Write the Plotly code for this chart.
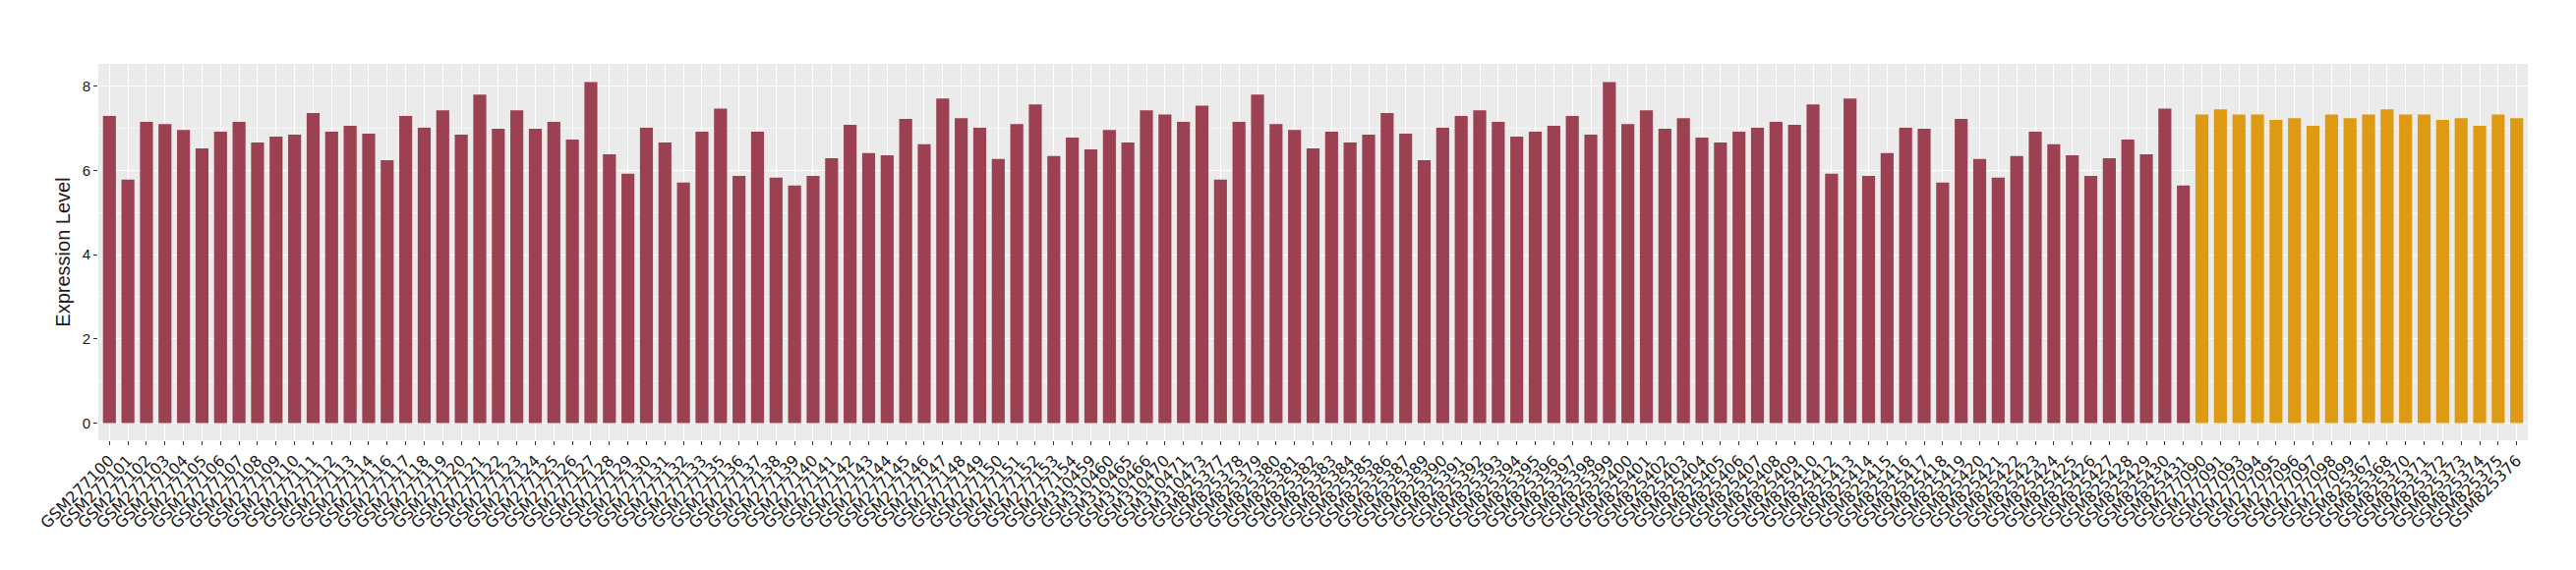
import plotly.graph_objects as go

samples = [
    "GSM277100", "GSM277101", "GSM277102", "GSM277103", "GSM277104", "GSM277105", "GSM277106",
    "GSM277107", "GSM277108", "GSM277109", "GSM277110", "GSM277111", "GSM277112", "GSM277113",
    "GSM277114", "GSM277116", "GSM277117", "GSM277118", "GSM277119", "GSM277120", "GSM277121",
    "GSM277122", "GSM277123", "GSM277124", "GSM277125", "GSM277126", "GSM277127", "GSM277128",
    "GSM277129", "GSM277130", "GSM277131", "GSM277132", "GSM277133", "GSM277135", "GSM277136",
    "GSM277137", "GSM277138", "GSM277139", "GSM277140", "GSM277141", "GSM277142", "GSM277143",
    "GSM277144", "GSM277145", "GSM277146", "GSM277147", "GSM277148", "GSM277149", "GSM277150",
    "GSM277151", "GSM277152", "GSM277153", "GSM277154", "GSM310459", "GSM310460", "GSM310465",
    "GSM310466", "GSM310470", "GSM310471", "GSM310473", "GSM825377", "GSM825378", "GSM825379",
    "GSM825380", "GSM825381", "GSM825382", "GSM825383", "GSM825384", "GSM825385", "GSM825386",
    "GSM825387", "GSM825389", "GSM825390", "GSM825391", "GSM825392", "GSM825393", "GSM825394",
    "GSM825395", "GSM825396", "GSM825397", "GSM825398", "GSM825399", "GSM825400", "GSM825401",
    "GSM825402", "GSM825403", "GSM825404", "GSM825405", "GSM825406", "GSM825407", "GSM825408",
    "GSM825409", "GSM825410", "GSM825412", "GSM825413", "GSM825414", "GSM825415", "GSM825416",
    "GSM825417", "GSM825418", "GSM825419", "GSM825420", "GSM825421", "GSM825422", "GSM825423",
    "GSM825424", "GSM825425", "GSM825426", "GSM825427", "GSM825428", "GSM825429", "GSM825430",
    "GSM825431",
    "GSM277090", "GSM277091", "GSM277093", "GSM277094", "GSM277095", "GSM277096", "GSM277097",
    "GSM277098", "GSM277099", "GSM825367", "GSM825368", "GSM825370", "GSM825371", "GSM825372",
    "GSM825373", "GSM825374", "GSM825375", "GSM825376",
]

values = [
    7.29, 5.78, 7.15, 7.10, 6.96, 6.52, 6.92,
    7.15, 6.66, 6.80, 6.85, 7.36, 6.92, 7.06,
    6.87, 6.24, 7.29, 7.01, 7.43, 6.85, 7.80,
    6.99, 7.43, 6.99, 7.15, 6.73, 8.10, 6.38,
    5.92, 7.01, 6.66, 5.71, 6.92, 7.47, 5.87,
    6.92, 5.83, 5.64, 5.87, 6.29, 7.08, 6.41,
    6.36, 7.22, 6.62, 7.71, 7.24, 7.01, 6.27,
    7.10, 7.57, 6.34, 6.78, 6.50, 6.96, 6.66,
    7.43, 7.33, 7.15, 7.54, 5.78, 7.15, 7.80,
    7.10, 6.96, 6.52, 6.92, 6.66, 6.85, 7.36,
    6.87, 6.24, 7.01, 7.29, 7.43, 7.15, 6.80,
    6.92, 7.06, 7.29, 6.85, 8.10, 7.10, 7.43,
    6.99, 7.24, 6.78, 6.66, 6.92, 7.01, 7.15,
    7.08, 7.57, 5.92, 7.71, 5.87, 6.41, 7.01,
    6.99, 5.71, 7.22, 6.27, 5.83, 6.34, 6.92,
    6.62, 6.36, 5.87, 6.29, 6.73, 6.38, 7.47,
    5.64,
    7.33, 7.45, 7.33, 7.33, 7.20, 7.24, 7.06,
    7.33, 7.24, 7.33, 7.45, 7.33, 7.33, 7.20,
    7.24, 7.06, 7.33, 7.24,
]

groups = ["A"] * 113 + ["B"] * 18

group_colors = {"A": "#9b4151", "B": "#de9a13"}

fig = go.Figure()
for g in ["A", "B"]:
    xs = [s for s, gg in zip(samples, groups) if gg == g]
    ys = [v for v, gg in zip(values, groups) if gg == g]
    fig.add_trace(go.Bar(x=xs, y=ys, marker=dict(color=group_colors[g], line=dict(width=0)),
                         showlegend=False))

fig.update_layout(
    width=2620, height=580,
    margin=dict(l=92, r=57, t=57, b=140),
    paper_bgcolor="white",
    plot_bgcolor="#ebebeb",
    bargap=0.3,
    barmode="overlay",
    font=dict(family="Liberation Sans, Arial, sans-serif", color="#1a1a1a"),
)

fig.update_xaxes(
    type="category",
    categoryorder="array",
    categoryarray=samples,
    range=[-0.6, len(samples) - 0.4],
    tickmode="array",
    tickvals=samples,
    ticktext=samples,
    tickangle=-45,
    tickfont=dict(family="DejaVu Sans, sans-serif", size=16, color="#1a1a1a"),
    showgrid=True, gridcolor="white", gridwidth=1.4,
    ticks="outside", ticklen=4, tickcolor="#333333", tickwidth=1,
    showline=False, zeroline=False,
)

fig.update_yaxes(
    range=[-0.41, 8.53],
    tickvals=[0, 2, 4, 6, 8],
    tickfont=dict(size=15, color="#1a1a1a"),
    showgrid=True, gridcolor="white", gridwidth=1.4,
    minor=dict(tickvals=[1, 3, 5, 7], showgrid=True, gridcolor="#f7f7f7", gridwidth=0.7, ticks=""),
    ticks="outside", ticklen=4, tickcolor="#333333", tickwidth=1,
    zeroline=False, showline=False,
    title=dict(text="Expression Level", font=dict(size=20, color="#1a1a1a"), standoff=6),
)

fig.write_html("out.html")
